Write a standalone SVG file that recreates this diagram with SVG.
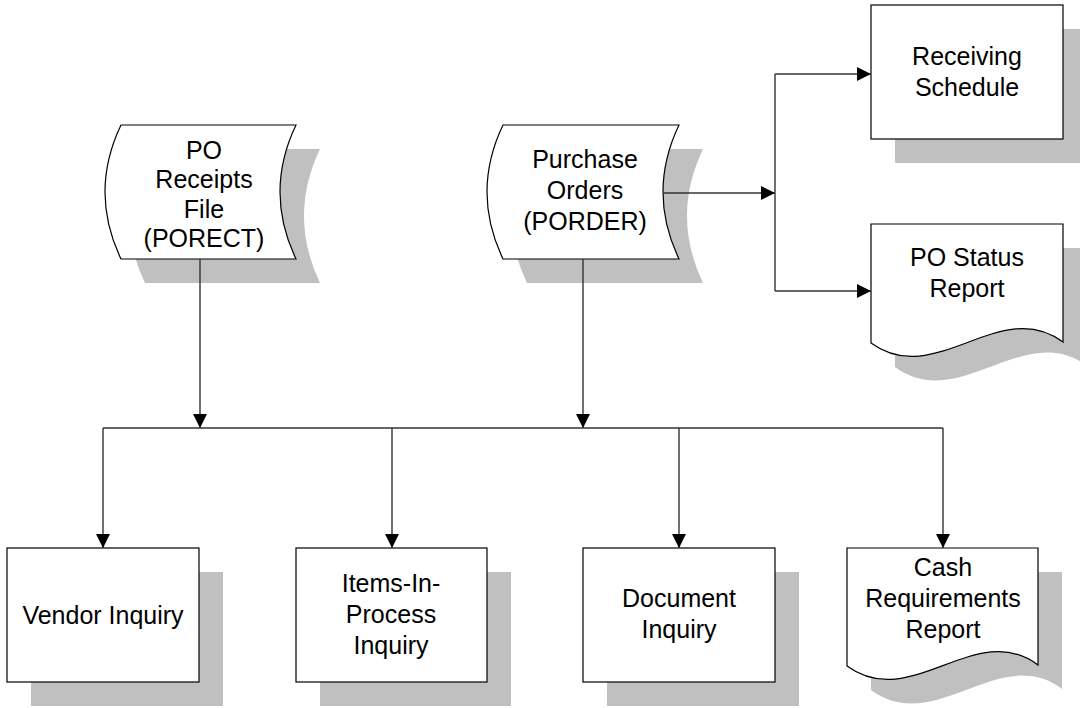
<svg xmlns="http://www.w3.org/2000/svg" width="1080" height="708" viewBox="0 0 1080 708">
<defs>
<marker id="arr" markerUnits="userSpaceOnUse" markerWidth="14" markerHeight="14" refX="14" refY="7" orient="auto">
<path d="M0,0 L14,7 L0,14 Z" fill="#000"/>
</marker>
<style>
.sh{fill:#C0C0C0;stroke:none}
.nd{fill:#fff;stroke:#000;stroke-width:1.2}
.t{font-family:"Liberation Sans",Arial,sans-serif;font-size:25px;fill:#000;text-anchor:middle}
.c{fill:none;stroke:#333;stroke-width:1.4}
.ca{fill:none;stroke:#333;stroke-width:1.4;marker-end:url(#arr)}
</style>
</defs>
<rect width="1080" height="708" fill="#fff"/>

<g id="porect">
<path class="sh" d="M145,149 L320,149 Q288,216 320,283 L145,283 Q113,216 145,149 Z"/>
<path class="nd" d="M121,125 L296,125 Q264,192 296,259 L121,259 Q89,192 121,125 Z"/>
<text class="t" x="204" y="159">PO</text>
<text class="t" x="204" y="188">Receipts</text>
<text class="t" x="204" y="218">File</text>
<text class="t" x="204" y="247">(PORECT)</text>
</g>

<g id="porder">
<path class="sh" d="M527,149 L703,149 Q671,216 703,283 L527,283 Q495,216 527,149 Z"/>
<path class="nd" d="M503,125 L679,125 Q647,192 679,259 L503,259 Q471,192 503,125 Z"/>
<text class="t" x="585" y="168">Purchase</text>
<text class="t" x="585" y="199">Orders</text>
<text class="t" x="585" y="230">(PORDER)</text>
</g>

<g id="receiving">
<rect class="sh" x="895" y="29" width="192" height="134"/>
<rect class="nd" x="871" y="5" width="192" height="134"/>
<text class="t" x="967" y="65">Receiving</text>
<text class="t" x="967" y="96">Schedule</text>
</g>

<g id="postatus">
<path class="sh" d="M895,248 L1087,248 L1087,366 C1024,319 959,414 895,367 Z"/>
<path class="nd" d="M871,224 L1063,224 L1063,342 C1000,295 935,390 871,343 Z"/>
<text class="t" x="967" y="266">PO Status</text>
<text class="t" x="967" y="297">Report</text>
</g>

<g id="vendor">
<rect class="sh" x="31" y="572" width="192" height="134"/>
<rect class="nd" x="7" y="548" width="192" height="134"/>
<text class="t" x="103" y="624">Vendor Inquiry</text>
</g>

<g id="items">
<rect class="sh" x="320" y="572" width="191" height="134"/>
<rect class="nd" x="296" y="548" width="191" height="134"/>
<text class="t" x="391" y="592">Items-In-</text>
<text class="t" x="391" y="623">Process</text>
<text class="t" x="391" y="654">Inquiry</text>
</g>

<g id="document">
<rect class="sh" x="607" y="572" width="192" height="134"/>
<rect class="nd" x="583" y="548" width="192" height="134"/>
<text class="t" x="679" y="607">Document</text>
<text class="t" x="679" y="638">Inquiry</text>
</g>

<g id="cash">
<path class="sh" d="M871,572 L1062,572 L1062,689 C1000,642 935,737 871,690 Z"/>
<path class="nd" d="M847,548 L1038,548 L1038,665 C976,618 911,713 847,666 Z"/>
<text class="t" x="943" y="576">Cash</text>
<text class="t" x="943" y="607">Requirements</text>
<text class="t" x="943" y="638">Report</text>
</g>

<g id="connectors">
<line class="ca" x1="200" y1="259" x2="200" y2="428"/>
<line class="ca" x1="583" y1="259" x2="583" y2="428"/>
<line class="c" x1="103" y1="428" x2="943" y2="428"/>
<line class="ca" x1="103" y1="428" x2="103" y2="548"/>
<line class="ca" x1="392" y1="428" x2="392" y2="548"/>
<line class="ca" x1="679" y1="428" x2="679" y2="548"/>
<line class="ca" x1="943" y1="428" x2="943" y2="548"/>
<line class="ca" x1="663" y1="193" x2="775" y2="193"/>
<line class="c" x1="775" y1="74" x2="775" y2="291"/>
<line class="ca" x1="775" y1="74" x2="871" y2="74"/>
<line class="ca" x1="775" y1="291" x2="871" y2="291"/>
</g>
</svg>
